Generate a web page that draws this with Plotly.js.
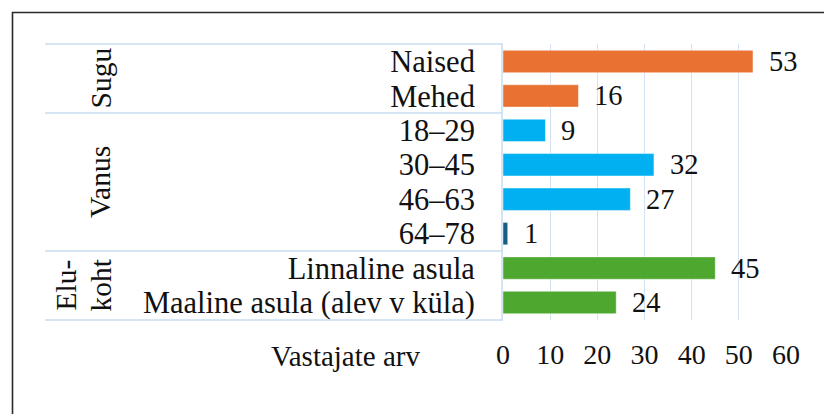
<!DOCTYPE html>
<html>
<head>
<meta charset="utf-8">
<script src="https://cdn.plot.ly/plotly-3.0.1.min.js"></script>
<style>html,body{margin:0;padding:0;background:#fff;}#chart{width:824px;height:414px;}</style>
</head>
<body>
<div id="chart"></div>
<script>
// Data
const categories = ["Naised", "Mehed", "18–29", "30–45", "46–63", "64–78", "Linnaline asula", "Maaline asula (alev v küla)"];
const values = [53, 16, 9, 32, 27, 1, 45, 24];
const barColors = ["#E97132", "#E97132", "#00B0F0", "#00B0F0", "#00B0F0", "#156082", "#4EA72E", "#4EA72E"];
const groupNames = ["Sugu", "Vanus", "Elu-|koht"];
const groupSizes = [2, 4, 2];
const xTicks = [0, 10, 20, 30, 40, 50, 60];
const xAxisLabel = "Vastajate arv";

// Layout geometry (pixels)
const W = 824, H = 414;
const L = 503, R = 38, T = 44, B = 94;
const pw = W - L - R, ph = H - T - B;
const px = x => (x - L) / pw;
const py = y => (H - B - y) / ph;

const FONT = "Liberation Serif, Times New Roman, serif";
const gridCol = "#d3e3f4";
const tableCol = "#c8dcf1";

const trace = {
  type: "bar",
  orientation: "h",
  y: categories,
  x: values,
  marker: {color: barColors, line: {color: "rgba(255,255,255,0.45)", width: 1}},
  hoverinfo: "x+y"
};

const annotations = [];
// value labels
categories.forEach((c, i) => {
  annotations.push({
    x: values[i], y: c, xref: "x", yref: "y",
    text: String(values[i]), showarrow: false,
    xanchor: "left", yanchor: "middle", xshift: 14,
    font: {family: FONT, size: 28.5, color: "#111"}
  });
});
// group labels
let start = 0;
const n = categories.length;
groupNames.forEach((g, gi) => {
  const mid = start + groupSizes[gi] / 2; // in row units from top
  const yp = 1 - mid / n;
  const parts = g.split("|");
  if (parts.length === 1) {
    annotations.push({x: px(100), y: yp, xref: "paper", yref: "paper", text: parts[0],
      showarrow: false, textangle: -90, xanchor: "center", yanchor: "middle",
      font: {family: FONT, size: 29.5, color: "#111"}});
  } else {
    annotations.push({x: px(65), y: yp, xref: "paper", yref: "paper", text: parts[0],
      showarrow: false, textangle: -90, xanchor: "center", yanchor: "middle",
      font: {family: FONT, size: 29.5, color: "#111"}});
    annotations.push({x: px(100), y: yp, xref: "paper", yref: "paper", text: parts[1],
      showarrow: false, textangle: -90, xanchor: "center", yanchor: "middle",
      font: {family: FONT, size: 29.5, color: "#111"}});
  }
  start += groupSizes[gi];
});
// axis label
annotations.push({x: px(345), y: py(356), xref: "paper", yref: "paper", text: xAxisLabel,
  showarrow: false, xanchor: "center", yanchor: "middle",
  font: {family: FONT, size: 29, color: "#111"}});

// table lines
const shapes = [];
let acc = 0;
const bounds = [0];
groupSizes.forEach(s => { acc += s; bounds.push(acc); });
bounds.forEach(b => {
  const yp = 1 - b / n;
  shapes.push({type: "line", xref: "paper", yref: "paper", x0: px(45), x1: 0, y0: yp, y1: yp,
    line: {color: tableCol, width: 1.5}});
});
shapes.push({type: "line", xref: "paper", yref: "paper", x0: px(502), x1: px(502), y0: 0, y1: 1,
  line: {color: tableCol, width: 1.5}});
// outer border (top and left)
shapes.push({type: "path", xref: "paper", yref: "paper",
  path: `M ${px(12.5)} ${py(420)} L ${px(12.5)} ${py(12.5)} L ${px(830)} ${py(12.5)}`,
  line: {color: "#2a2a2a", width: 1.6}});

const layout = {
  width: W, height: H,
  margin: {l: L, r: R, t: T, b: B, pad: 0},
  paper_bgcolor: "#fff", plot_bgcolor: "#fff",
  showlegend: false,
  bargap: 0.35,
  font: {family: FONT, color: "#111"},
  xaxis: {
    range: [0, 60], tickmode: "array", tickvals: xTicks, ticktext: xTicks.map(String),
    showgrid: true, gridcolor: gridCol, gridwidth: 1.2,
    zeroline: false, showline: false,
    ticks: "outside", ticklen: 9, tickcolor: "rgba(0,0,0,0)",
    tickfont: {family: FONT, size: 28, color: "#111"}, fixedrange: true
  },
  yaxis: {
    type: "category", categoryorder: "array", categoryarray: categories,
    tickmode: "array", tickvals: categories, ticktext: categories,
    autorange: "reversed",
    showgrid: false, zeroline: false, showline: false,
    ticks: "outside", ticklen: 21, tickcolor: "rgba(0,0,0,0)",
    tickfont: {family: FONT, size: 30.5, color: "#111"}, fixedrange: true
  },
  annotations: annotations,
  shapes: shapes
};

Plotly.newPlot("chart", [trace], layout, {displayModeBar: false, staticPlot: true});
</script>
</body>
</html>
